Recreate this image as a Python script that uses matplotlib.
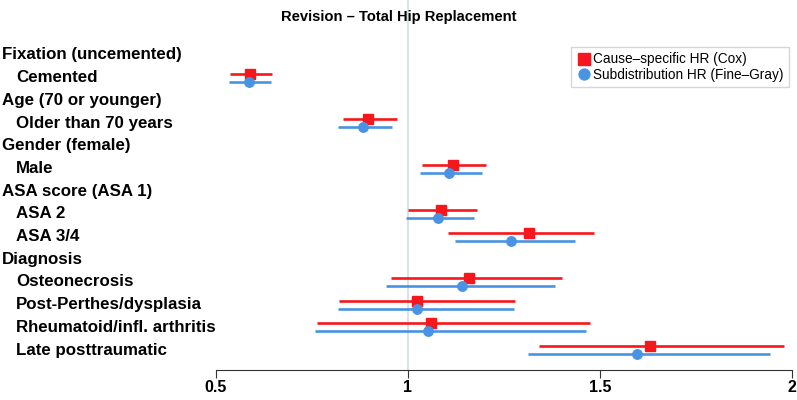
import matplotlib.pyplot as plt
import matplotlib.transforms as mtransforms
import numpy as np

plt.rcParams["font.family"] = ["Liberation Sans", "DejaVu Sans"]

# row labels, top to bottom (headers are not indented)
row_labels = [
    "Fixation (uncemented)", "Cemented",
    "Age (70 or younger)", "Older than 70 years",
    "Gender (female)", "Male",
    "ASA score (ASA 1)", "ASA 2", "ASA 3/4",
    "Diagnosis", "Osteonecrosis", "Post-Perthes/dysplasia",
    "Rheumatoid/infl. arthritis", "Late posttraumatic",
]
is_header = [True, False, True, False, True, False, True, False, False,
             True, False, False, False, False]

# estimates for the non-header rows, in order
est_rows = [1, 3, 5, 7, 8, 10, 11, 12, 13]
cox_hr = [0.589, 0.897, 1.118, 1.086, 1.315, 1.158, 1.024, 1.060, 1.629]
cox_lo = [0.536, 0.832, 1.037, 0.999, 1.105, 0.957, 0.821, 0.762, 1.340]
cox_hi = [0.645, 0.971, 1.202, 1.179, 1.484, 1.402, 1.278, 1.474, 1.979]
fg_hr = [0.585, 0.884, 1.108, 1.079, 1.268, 1.141, 1.023, 1.052, 1.596]
fg_lo = [0.533, 0.817, 1.031, 0.994, 1.123, 0.943, 0.818, 0.758, 1.312]
fg_hi = [0.642, 0.958, 1.194, 1.173, 1.435, 1.383, 1.275, 1.463, 1.943]

red = "#f5171c"
blue = "#4893e3"

fig = plt.figure(figsize=(7.97, 4.0), dpi=100)
ax = fig.add_axes([216 / 797, 30 / 400, 576 / 797, 370 / 400])

row_px = 22.7
ax.set_xlim(0.5, 2.0)
ax.set_ylim(13 + 20 / row_px, -55 / row_px)

ax.axvline(1.0, color="#d6e0e0", lw=1.3, zorder=0)

y = np.array(est_rows, dtype=float)
ax.hlines(y - 0.17, cox_lo, cox_hi, color=red, lw=1.9, zorder=2)
ax.plot(cox_hr, y - 0.17, "s", color=red, ms=7.2, zorder=3,
        label="Cause\u2013specific HR (Cox)")
ax.hlines(y + 0.18, fg_lo, fg_hi, color=blue, lw=1.9, zorder=2)
ax.plot(fg_hr, y + 0.18, "o", color=blue, ms=6.8, zorder=3,
        label="Subdistribution HR (Fine\u2013Gray)")

label_tf = mtransforms.blended_transform_factory(fig.transFigure, ax.transData)
for i, (lab, head) in enumerate(zip(row_labels, is_header)):
    xpos = 2 if head else 16
    ax.text(xpos / 797, i, lab, transform=label_tf,
            ha="left", va="center", fontsize=12.2, weight="semibold")

for side in ["top", "right", "left"]:
    ax.spines[side].set_visible(False)
ax.spines["bottom"].set_bounds(0.5, 2.0)
ax.spines["bottom"].set_color("#333333")
ax.set_yticks([])
ax.set_xticks([0.5, 1.0, 1.5, 2.0])
ax.set_xticklabels(["0.5", "1", "1.5", "2"], fontsize=11.5, weight="bold")
ax.tick_params(axis="x", length=6, color="#333333", pad=1.5)

fig.text(0.5, 1 - 17 / 400, "Revision \u2013 Total Hip Replacement",
         ha="center", va="center", fontsize=10.6, weight="bold")

leg = ax.legend(loc="upper right", fontsize=9.8, frameon=True,
                fancybox=False, edgecolor="#cccccc", borderpad=0.4,
                handletextpad=0.2, handlelength=1.0, labelspacing=0.1,
                markerscale=1.15, borderaxespad=0)
leg.set_bbox_to_anchor((789 / 797, 1 - 47 / 400), transform=fig.transFigure)

fig.savefig("out.png", dpi=100)
